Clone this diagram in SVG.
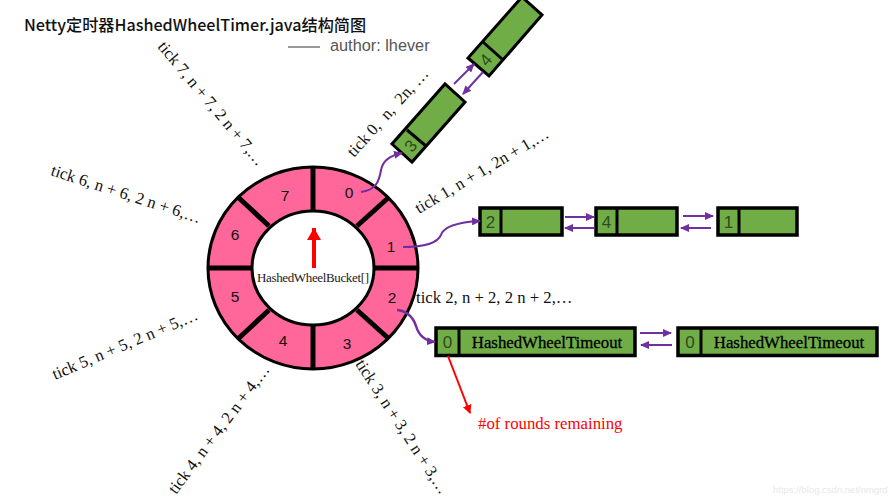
<svg xmlns="http://www.w3.org/2000/svg" width="894" height="500" viewBox="0 0 894 500">
<style>
text{font-family:"Liberation Serif","Times New Roman",serif}
.t{font-size:16.7px;fill:#111}
.n{font-family:"Liberation Sans",Arial,sans-serif;font-size:15.500px;fill:#111;text-anchor:middle;dominant-baseline:central}
.g{fill:#70ad47;stroke:#000;stroke-width:3}
.gt{fill:#70ad47;stroke:#000;stroke-width:3.5}
.d{stroke:#000;stroke-width:3;fill:none}
.s{stroke:#000;stroke-width:5;fill:none}
.p{stroke:#7030a0;stroke-width:2;fill:none;marker-end:url(#pa)}
.c{font-family:"Liberation Sans",Arial,sans-serif;font-size:17px;fill:#2f4a1c;text-anchor:middle;dominant-baseline:central}
.o{font-size:16.800px;fill:#000;text-anchor:middle;stroke:#000;stroke-width:.3}
</style>
<defs>
<marker id="pa" markerUnits="userSpaceOnUse" markerWidth="9" markerHeight="8" refX="8" refY="4" orient="auto"><path d="M0 0L9 4L0 8Z" fill="#7030a0"/></marker>
<marker id="ra" markerUnits="userSpaceOnUse" markerWidth="9" markerHeight="9" refX="8" refY="4.5" orient="auto"><path d="M0 0L9 4.500L0 9Z" fill="#f00"/></marker>
</defs>
<g id="title">
<text x="24" y="31" style="font-family:'Noto Sans CJK SC','Liberation Sans',sans-serif;font-size:16.150px;font-weight:500" fill="#111">Netty定时器HashedWheelTimer.java结构简图</text>
<line x1="288" y1="47" x2="320" y2="47" stroke="#777" stroke-width="1.500"/>
<text x="330" y="51" style="font-family:'Liberation Sans',sans-serif;font-size:16.300px" fill="#555">author: lhever</text>
</g>
<g id="wheel">
<ellipse cx="313" cy="268" rx="105" ry="101" fill="#ff6699" stroke="#000" stroke-width="3"/>
<ellipse cx="313" cy="268" rx="61" ry="57" fill="#fff" stroke="#000" stroke-width="3"/>
<path class="s" d="M313 167V211M313 325V369M208 268H252M374 268H418M357 226L388 198M269 226L239 198M269 310L239 338M357 310L388 338"/>
<text class="n" x="349" y="192">0</text>
<text class="n" x="391" y="246">1</text>
<text class="n" x="392" y="297">2</text>
<text class="n" x="347" y="343">3</text>
<text class="n" x="283" y="340">4</text>
<text class="n" x="235" y="296">5</text>
<text class="n" x="235" y="234">6</text>
<text class="n" x="285" y="195">7</text>
<line x1="314" y1="268" x2="314" y2="228" stroke="#f00" stroke-width="4"/>
<path d="M314 228L307 240H321Z" fill="#f00"/>
<text x="257" y="282" style="font-size:13px" fill="#222" textLength="112">HashedWheelBucket[]</text>
</g>
<g id="bucket0">
<polygon class="g" points="392,144 412,162 465,102 445,84"/>
<line class="d" x1="407" y1="130" x2="426" y2="146"/>
<text class="c" transform="translate(411 146) rotate(-49)">3</text>
<polygon class="g" points="468,58 489,76 542,15 522,-3"/>
<line class="d" x1="483" y1="42" x2="502" y2="59"/>
<text class="c" transform="translate(486 60) rotate(-49)">4</text>
</g>
<g id="bucket1">
<rect class="gt" x="480" y="208" width="82" height="27"/><line class="d" x1="501" y1="208" x2="501" y2="235"/>
<text class="c" x="490.500" y="222">2</text>
<rect class="gt" x="596" y="208" width="81" height="27"/><line class="d" x1="617" y1="208" x2="617" y2="235"/>
<text class="c" x="606.500" y="222">4</text>
<rect class="gt" x="718" y="208" width="79" height="27"/><line class="d" x1="739" y1="208" x2="739" y2="235"/>
<text class="c" x="728.500" y="222">1</text>
</g>
<g id="bucket2">
<rect class="gt" x="436" y="328" width="199" height="27.500"/><line class="d" x1="459" y1="328" x2="459" y2="355"/>
<text class="c" x="447.500" y="342">0</text>
<text class="o" x="547" y="348">HashedWheelTimeout</text>
<rect class="gt" x="678" y="328" width="199" height="27.500"/><line class="d" x1="701" y1="328" x2="701" y2="355"/>
<text class="c" x="690" y="342">0</text>
<text class="o" x="789" y="348">HashedWheelTimeout</text>
</g>
<g id="connectors">
<path class="p" d="M361 192C375 190 379 183 381 170C383 160 390 156 402 153"/>
<path class="p" d="M454 84L474 64"/>
<path class="p" d="M483 72L463 94"/>
<path class="p" d="M403 247C420 247 437 244 441 235C444 226 460 222 480 221"/>
<path class="p" d="M565 217H594"/>
<path class="p" d="M595 228H565"/>
<path class="p" d="M683 216H713"/>
<path class="p" d="M711 228H681"/>
<path class="p" style="stroke-width:2.500" d="M397 310C407 311 413 317 416 326C419 336 425 341 435 342"/>
<path class="p" d="M640 333H671"/>
<path class="p" d="M672 345H641"/>
<line x1="448" y1="356" x2="470" y2="413" stroke="#f00" stroke-width="2" marker-end="url(#ra)"/>
</g>
<g id="labels">
<text class="t" transform="translate(354 158) rotate(-48)" xml:space="preserve">tick 0,  n,  2n, …</text>
<text class="t" transform="translate(419 214) rotate(-30.500)">tick 1, n + 1,  2n + 1,…</text>
<text class="t" x="416" y="303">tick 2, n + 2, 2 n + 2,…</text>
<text class="t" transform="translate(355 364) rotate(57)">tick 3, n + 3, 2 n + 3,…</text>
<text class="t" transform="translate(176 495) rotate(-53)">tick 4, n + 4, 2 n + 4,…</text>
<text class="t" transform="translate(55 380) rotate(-23)">tick 5, n + 5, 2 n + 5,…</text>
<text class="t" transform="translate(50 175) rotate(18)">tick 6, n + 6, 2 n + 6,…</text>
<text class="t" transform="translate(157 47) rotate(50)">tick 7, n + 7, 2 n + 7,…</text>
<text x="478" y="429" style="font-size:16.800px" fill="#f00">#of rounds remaining</text>
<text x="773" y="493" style="font-family:'Liberation Sans',sans-serif;font-size:9.500px" fill="#e8e8e8">https://blog.csdn.net/nmgrd</text>
</g>
</svg>
